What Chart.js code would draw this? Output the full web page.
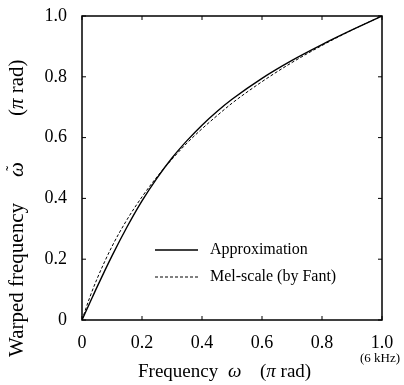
<!DOCTYPE html>
<html>
<head>
<meta charset="utf-8">
<script src="https://cdn.jsdelivr.net/npm/chart.js@4.4.1/dist/chart.umd.min.js"></script>
<style>
html,body{margin:0;padding:0;background:#fff;}
canvas{display:block;}
</style>
</head>
<body>
<canvas id="c" width="404" height="385"></canvas>
<script>
// Data
const freq = [0, 0.025, 0.05, 0.1, 0.15, 0.2, 0.25, 0.3, 0.35, 0.4, 0.45, 0.5, 0.6, 0.7, 0.8, 0.9, 1.0];
const approximation = [0, 0.054, 0.108, 0.211, 0.306, 0.392, 0.467, 0.533, 0.590, 0.641, 0.686, 0.726, 0.795, 0.854, 0.906, 0.954, 1.0];
const melScale = [0, 0.072, 0.135, 0.242, 0.330, 0.405, 0.471, 0.529, 0.582, 0.629, 0.672, 0.713, 0.784, 0.847, 0.903, 0.954, 1.0];
const tickValues = [0, 0.2, 0.4, 0.6, 0.8, 1.0];
const seriesNames = ["Approximation", "Mel-scale (by Fant)"];

const SERIF = "'Liberation Serif', 'DejaVu Serif', serif";
const fmt = v => (Math.abs(v) < 1e-9 ? "0" : v.toFixed(1));

const framePlugin = {
  id: "frame",
  afterDraw(chart) {
    const ctx = chart.ctx;
    const a = chart.chartArea;
    const xs = chart.scales.x, ys = chart.scales.y;
    ctx.save();
    ctx.strokeStyle = "#000";
    ctx.lineWidth = 1.5;
    ctx.strokeRect(a.left, a.top, a.right - a.left, a.bottom - a.top);
    ctx.lineWidth = 1;
    const L = 4;
    ctx.beginPath();
    tickValues.forEach(v => {
      const px = xs.getPixelForValue(v);
      ctx.moveTo(px, a.bottom); ctx.lineTo(px, a.bottom - L);
      ctx.moveTo(px, a.top); ctx.lineTo(px, a.top + L);
      const py = ys.getPixelForValue(v);
      ctx.moveTo(a.left, py); ctx.lineTo(a.left + L, py);
      ctx.moveTo(a.right, py); ctx.lineTo(a.right - L, py);
    });
    ctx.stroke();

    // Legend inside the plot
    const lx0 = 155, lx1 = 198, tx = 210;
    const rows = [{y: 250, dash: []}, {y: 277, dash: [3, 2]}];
    ctx.font = "16px " + SERIF;
    ctx.fillStyle = "#000";
    ctx.textBaseline = "middle";
    ctx.textAlign = "left";
    rows.forEach((r, i) => {
      ctx.beginPath();
      ctx.setLineDash(r.dash);
      ctx.lineWidth = i === 0 ? 1.3 : 1;
      ctx.moveTo(lx0, r.y); ctx.lineTo(lx1, r.y);
      ctx.stroke();
      ctx.setLineDash([]);
      ctx.fillText(seriesNames[i], tx, r.y);
    });

    // X axis title
    ctx.textBaseline = "alphabetic";
    const by = 377;
    ctx.font = "19px " + SERIF;
    ctx.fillText("Frequency", 138, by);
    ctx.font = "italic 19px " + SERIF;
    ctx.fillText("\u03C9", 228, by);
    let x = 260;
    ctx.font = "19px " + SERIF;
    ctx.fillText("(", x, by); x += ctx.measureText("(").width;
    ctx.font = "italic 19px " + SERIF;
    ctx.fillText("\u03C0", x, by); x += ctx.measureText("\u03C0").width;
    ctx.font = "19px " + SERIF;
    ctx.fillText(" rad)", x, by);

    // (6 kHz)
    ctx.font = "13px " + SERIF;
    ctx.textAlign = "center";
    ctx.fillText("(6 kHz)", 380, 362);

    // Y axis title (rotated)
    ctx.translate(23, 0);
    ctx.rotate(-Math.PI / 2);
    ctx.textAlign = "left";
    ctx.font = "21px " + SERIF;
    ctx.fillText("Warped frequency", -357, 0);
    ctx.font = "italic 21px " + SERIF;
    ctx.fillText("\u03C9", -177, 0);
    const ow = ctx.measureText("\u03C9").width;
    ctx.font = "16px " + SERIF;
    ctx.textAlign = "center";
    ctx.fillText("\u02DC", -177 + ow / 2 + 1, -6);
    ctx.textAlign = "left";
    let y = -116;
    ctx.font = "21px " + SERIF;
    ctx.fillText("(", y, 0); y += ctx.measureText("(").width;
    ctx.font = "italic 21px " + SERIF;
    ctx.fillText("\u03C0", y, 0); y += ctx.measureText("\u03C0").width;
    ctx.font = "21px " + SERIF;
    ctx.fillText(" rad)", y, 0);
    ctx.restore();
  }
};

new Chart(document.getElementById("c"), {
  type: "line",
  data: {
    datasets: [
      {
        label: seriesNames[0],
        data: freq.map((f, i) => ({x: f, y: approximation[i]})),
        borderColor: "#000",
        borderWidth: 1.4,
        pointRadius: 0,
        cubicInterpolationMode: "monotone",
        fill: false
      },
      {
        label: seriesNames[1],
        data: freq.map((f, i) => ({x: f, y: melScale[i]})),
        borderColor: "#000",
        borderWidth: 1,
        borderDash: [3, 2],
        pointRadius: 0,
        cubicInterpolationMode: "monotone",
        fill: false
      }
    ]
  },
  options: {
    responsive: false,
    animation: false,
    layout: {padding: {left: 0, right: 22, top: 16, bottom: 0}},
    plugins: {legend: {display: false}, tooltip: {enabled: false}},
    scales: {
      x: {
        type: "linear", min: 0, max: 1,
        afterBuildTicks: s => { s.ticks = tickValues.map(v => ({value: v})); },
        afterFit: s => { s.height = 65; s.paddingLeft = 0; s.paddingRight = 0; },
        grid: {display: false, drawTicks: false},
        border: {display: false},
        ticks: {color: "#000", padding: 12, maxRotation: 0, font: {family: SERIF, size: 18}, callback: v => fmt(v)}
      },
      y: {
        type: "linear", min: 0, max: 1,
        afterBuildTicks: s => { s.ticks = tickValues.map(v => ({value: v})); },
        afterFit: s => { s.width = 82; s.paddingTop = 0; s.paddingBottom = 0; },
        grid: {display: false, drawTicks: false},
        border: {display: false},
        ticks: {color: "#000", padding: 15, font: {family: SERIF, size: 18}, callback: v => fmt(v)}
      }
    }
  },
  plugins: [framePlugin]
});
</script>
</body>
</html>
